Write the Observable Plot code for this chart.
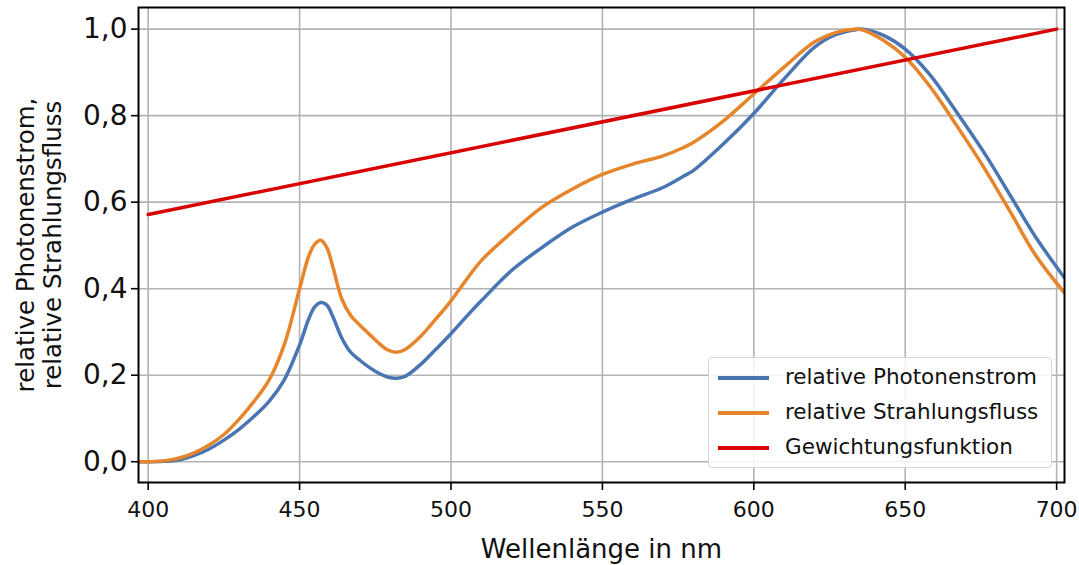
<!DOCTYPE html>
<html>
<head>
<meta charset="utf-8">
<script src="https://cdn.jsdelivr.net/npm/d3@7"></script>
<script src="https://cdn.jsdelivr.net/npm/@observablehq/plot@0.6"></script>
<style>
  html, body { margin: 0; padding: 0; background: #fff; }
  #wrap { position: relative; width: 1079px; height: 565px; font-family: "DejaVu Sans", sans-serif; }
  #legend { position: absolute; left: 708px; top: 357px; width: 344px; height: 111px;
    border: 1px solid #d6d6d6; border-radius: 4px; background: rgba(255,255,255,0.85); box-sizing: border-box; }
  .row { position: absolute; left: 0; height: 0; }
  .sw { position: absolute; left: 9px; width: 51px; height: 3.5px; margin-top: -2px; }
  .lt { position: absolute; left: 76px; top: -15px; white-space: nowrap; font-size: 21.5px; color: #111; line-height: 28px; }
</style>
</head>
<body>
<div id="wrap"></div>
<script>
// Wavelengths (nm)
const wavelength = [397, 400, 405, 410, 415, 420, 425, 430, 435, 440, 445, 450, 453, 455, 457, 459, 461, 464, 467, 470, 473, 476, 479, 482, 485, 490, 495, 500, 505, 510, 520, 530, 540, 550, 560, 570, 577, 580, 590, 600, 610, 620, 627, 633, 636, 643, 650, 658, 667, 676, 685, 693, 702.5];
// relativer Photonenstrom
const photon = [0.0, 0.0, 0.001, 0.004, 0.014, 0.029, 0.050, 0.075, 0.105, 0.14, 0.19, 0.27, 0.33, 0.358, 0.368, 0.362, 0.335, 0.285, 0.252, 0.234, 0.218, 0.205, 0.196, 0.193, 0.198, 0.225, 0.26, 0.296, 0.335, 0.372, 0.442, 0.495, 0.542, 0.577, 0.607, 0.634, 0.661, 0.673, 0.735, 0.805, 0.885, 0.958, 0.987, 0.998, 1.0, 0.985, 0.954, 0.896, 0.808, 0.715, 0.612, 0.52, 0.426];
// relativer Strahlungsfluss
const radiant = [0.0, 0.0, 0.002, 0.008, 0.02, 0.038, 0.063, 0.098, 0.14, 0.19, 0.272, 0.40, 0.475, 0.503, 0.512, 0.495, 0.45, 0.375, 0.337, 0.315, 0.295, 0.275, 0.259, 0.253, 0.26, 0.29, 0.33, 0.372, 0.42, 0.465, 0.530, 0.588, 0.630, 0.664, 0.688, 0.707, 0.727, 0.738, 0.788, 0.85, 0.912, 0.97, 0.992, 1.0, 0.998, 0.973, 0.935, 0.869, 0.777, 0.680, 0.574, 0.478, 0.391];
// Gewichtungsfunktion
const weightWl = [400, 700];
const weight = [0.5714, 1.0];

const seriesNames = ["relative Photonenstrom", "relative Strahlungsfluss", "Gewichtungsfunktion"];
const seriesColors = ["#4a75b3", "#e6852b", "#d80000"];
const xTicks = [400, 450, 500, 550, 600, 650, 700];
const yTicks = [0, 0.2, 0.4, 0.6, 0.8, 1.0];
const xLabel = "Wellenlänge in nm";
const yLabel = "relative Photonenstrom,\nrelative Strahlungsfluss";

const photonData = wavelength.map((w, i) => ({w, v: photon[i]}));
const radiantData = wavelength.map((w, i) => ({w, v: radiant[i]}));
const weightData = weightWl.map((w, i) => ({w, v: weight[i]}));

const fmt = d => d.toFixed(1).replace(".", ",");

const chart = Plot.plot({
  width: 1079,
  height: 565,
  marginLeft: 138,
  marginRight: 15,
  marginTop: 7,
  marginBottom: 83,
  style: {fontFamily: "DejaVu Sans, sans-serif", color: "#111", background: "#fff"},
  x: {domain: [396.8, 702.6]},
  y: {domain: [-0.048, 1.05]},
  marks: [
    Plot.gridX(xTicks, {stroke: "#b3b3b3", strokeOpacity: 1, strokeWidth: 1.6}),
    Plot.gridY(yTicks, {stroke: "#b3b3b3", strokeOpacity: 1, strokeWidth: 1.6}),
    Plot.line(photonData, {x: "w", y: "v", stroke: seriesColors[0], strokeWidth: 3.5, curve: "catmull-rom", clip: true}),
    Plot.line(radiantData, {x: "w", y: "v", stroke: seriesColors[1], strokeWidth: 3.5, curve: "catmull-rom", clip: true}),
    Plot.line(weightData, {x: "w", y: "v", stroke: seriesColors[2], strokeWidth: 3.5, clip: true}),
    Plot.frame({stroke: "#000", strokeWidth: 2}),
    Plot.axisX(xTicks, {tickSize: 8, tickPadding: 11, fontSize: 22, label: null, stroke: "#000", strokeWidth: 1.6}),
    Plot.axisY(yTicks, {tickSize: 7, tickPadding: 4, fontSize: 28, tickFormat: fmt, label: null, stroke: "#000", strokeWidth: 1.6}),
    Plot.text([xLabel], {frameAnchor: "bottom", dy: 67, fontSize: 26, textAnchor: "middle", lineAnchor: "middle", fill: "#111"}),
    Plot.text([yLabel], {frameAnchor: "left", dx: -100, rotate: -90, fontSize: 24.5, textAnchor: "middle", lineAnchor: "middle", lineHeight: 1.1, fill: "#111"})
  ]
});

const wrap = document.getElementById("wrap");
wrap.appendChild(chart);

const legend = document.createElement("div");
legend.id = "legend";
const rowTops = [20, 55, 90];
seriesNames.forEach((name, i) => {
  const row = document.createElement("div");
  row.className = "row";
  row.style.top = rowTops[i] + "px";
  const sw = document.createElement("div");
  sw.className = "sw";
  sw.style.background = seriesColors[i];
  const lt = document.createElement("div");
  lt.className = "lt";
  lt.textContent = name;
  row.appendChild(sw);
  row.appendChild(lt);
  legend.appendChild(row);
});
wrap.appendChild(legend);
</script>
</body>
</html>
